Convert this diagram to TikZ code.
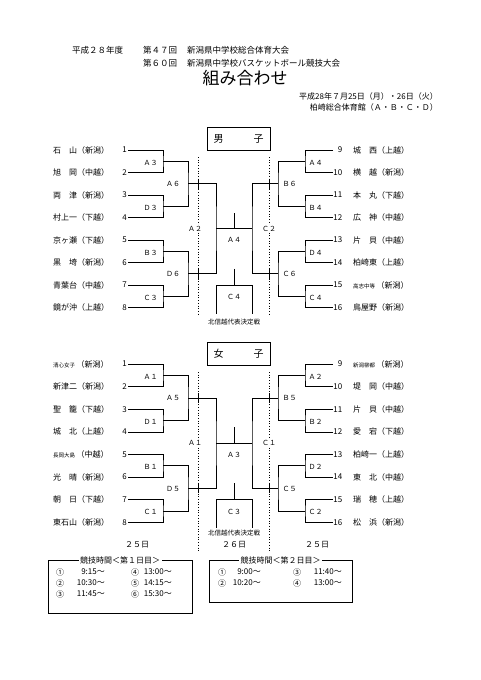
\documentclass[tikz,border=0pt]{standalone}
\usepackage{fontspec}
\setmainfont{Noto Sans CJK JP}
\usetikzlibrary{calc}
\newcommand\tsm[1]{{\fontsize{5.5}{6}\selectfont #1}}
\tikzset{
  br/.style={line width=0.6pt},
  dl/.style={dotted, line width=0.7pt},
  nm/.style={font=\fontsize{8}{9}\selectfont, inner sep=0pt},
  lab/.style={font=\fontsize{7}{8}\selectfont, inner sep=0.5pt},
  semi/.style={lab, fill=white, inner sep=1pt},
  tt/.style={font=\fontsize{8.5}{10}\selectfont, inner sep=0pt},
  sch/.style={font=\fontsize{8}{9}\selectfont, inner sep=0pt},
  small/.style={font=\fontsize{6.5}{7}\selectfont, inner sep=0pt},
  gbox/.style={draw, line width=0.7pt, minimum width=63, minimum height=23, inner sep=0pt, font=\fontsize{10}{11}\selectfont},
  sframe/.style={line width=0.7pt},
}
% #1 prefix, #2 first row y, #3 row spacing
\newcommand\mybracket[3]{%
  \foreach \i in {1,...,8}{%
    \pgfmathsetmacro\yy{#2+(\i-1)*#3}%
    \coordinate (#1l\i) at (128,\yy);
    \coordinate (#1r\i) at (333,\yy);
    \node[nm,anchor=east] (#1ln\i) at (127,\yy) {\i};
    \pgfmathtruncatemacro\jj{\i+8}%
    \node[nm,anchor=east] (#1rn\i) at (342.5,\yy) {\jj};
  }%
  \foreach \k in {1,...,4}{%
    \pgfmathsetmacro\yy{#2+(2*\k-1.5)*#3}%
    \coordinate (#1lj\k) at (163,\yy);
    \coordinate (#1rj\k) at (305,\yy);
  }%
  \foreach \k in {1,...,4}{%
    \pgfmathtruncatemacro\a{2*\k-1}%
    \pgfmathtruncatemacro\b{2*\k}%
    \draw[br] (#1l\a) -| (#1lj\k) |- (#1l\b);
    \draw[br] (#1r\a) -| (#1rj\k) |- (#1r\b);
  }%
  \foreach \k in {1,2}{%
    \pgfmathsetmacro\yy{#2+(4*\k-2.5)*#3}%
    \coordinate (#1lk\k) at (188,\yy);
    \coordinate (#1rk\k) at (278,\yy);
    \draw[br] (198,\yy-5) -- (198,\yy+5);
    \draw[br] (269,\yy-5) -- (269,\yy+5);
  }%
  \draw[br] (#1lj1) -| (#1lk1) |- (#1lj2);
  \draw[br] (#1lj3) -| (#1lk2) |- (#1lj4);
  \draw[br] (#1rj1) -| (#1rk1) |- (#1rj2);
  \draw[br] (#1rj3) -| (#1rk2) |- (#1rj4);
  \pgfmathsetmacro\yy{#2+3.5*#3}%
  \coordinate (#1ls) at (216,\yy);
  \coordinate (#1rs) at (252,\yy);
  \coordinate (#1f) at (234,\yy);
  \coordinate (#1ft) at (234,\yy-16);
  \coordinate (#1ta) at (234,\yy+40);
  \coordinate (#1tb) at (234,\yy+56.5);
  \coordinate (#1tl1) at (216,\yy+56.5);
  \coordinate (#1tr1) at (252,\yy+56.5);
  \coordinate (#1tl2) at (216,\yy+85);
  \coordinate (#1tr2) at (252,\yy+85);
  \draw[br] (#1lk1) -| (#1ls) |- (#1lk2);
  \draw[br] (#1rk1) -| (#1rs) |- (#1rk2);
  \draw[br] (#1ls) -- (#1rs);
  \draw[br] (#1f) -- (#1ft);
  \draw[br] (#1ta) -- (#1tb);
  \draw[br] (#1tl2) -- (#1tl1) -- (#1tr1) -- (#1tr2);
}
\newcommand\mylabels[9]{%
  \foreach \t [count=\k] in {#2} \node[lab] (#1la\k) at ($(#1lj\k)+(-12.5,1.5)$) {\t};
  \foreach \t [count=\k] in {#3} \node[lab] (#1ra\k) at ($(#1rj\k)+(10.5,1.5)$) {\t};
  \foreach \t [count=\k] in {#4} \node[lab] (#1lb\k) at ($(#1lk\k)+(-15,0.5)$) {\t};
  \foreach \t [count=\k] in {#5} \node[lab] (#1rb\k) at ($(#1rk\k)+(11.5,0.5)$) {\t};
  \node[semi] (#1lc) at ($(#1ls)+(-21,0)$) {#6};
  \node[semi] (#1rc) at ($(#1rs)+(17,0)$) {#7};
  \node[lab] (#1fl) at ($(#1f)+(0,11.5)$) {#8};
  \node[lab] (#1tl) at ($(#1f)+(0,68.5)$) {#9};
}
\begin{document}
\begin{tikzpicture}[x=1pt,y=-1pt]
\useasboundingbox (0,0) rectangle (481,680);
\fill[white] (0,0) rectangle (481,680);

% titles
\node[tt,anchor=west] (t1) at (72,50) {平成２８年度};
\node[tt,anchor=west] (t2) at (143,50) {第４７回};
\node[tt,anchor=west] (t3) at (187,50) {新潟県中学校総合体育大会};
\node[tt,anchor=west] (t4) at (143,63) {第６０回};
\node[tt,anchor=west] (t5) at (187,63) {新潟県中学校バスケットボール競技大会};
\node[inner sep=0pt,font=\fontsize{17}{18}\selectfont] (t6) at (245,78) {組み合わせ};
\node[nm,anchor=east] (d1) at (438,96) {平成28年７月25日（月）・26日（火）};
\node[nm,anchor=east] (d2) at (438,107.5) {柏崎総合体育館（Ａ・Ｂ・Ｃ・Ｄ）};

% gender boxes
\node[gbox] (boys) at (238.5,138.5) {男　　　子};
\node[gbox] (girls) at (238.5,353.5) {女　　　子};

% dotted lines
\coordinate (bd1) at (198,157); \coordinate (bd2) at (198,314);
\coordinate (bd3) at (269,157); \coordinate (bd4) at (269,314);
\coordinate (gd1) at (198,372); \coordinate (gd2) at (198,551);
\coordinate (gd3) at (269,372); \coordinate (gd4) at (269,551);
\draw[dl] (bd1) -- (bd2);
\draw[dl] (bd3) -- (bd4);
\draw[dl] (gd1) -- (gd2);
\draw[dl] (gd3) -- (gd4);

% brackets
\mybracket{b}{150}{22.5}
\mybracket{g}{364}{22.6}

\mylabels{b}{Ａ３,Ｄ３,Ｂ３,Ｃ３}{Ａ４,Ｂ４,Ｄ４,Ｃ４}{Ａ６,Ｄ６}{Ｂ６,Ｃ６}{Ａ２}{Ｃ２}{Ａ４}{Ｃ４}
\mylabels{g}{Ａ１,Ｄ１,Ｂ１,Ｃ１}{Ａ２,Ｂ２,Ｄ２,Ｃ２}{Ａ５,Ｄ５}{Ｂ５,Ｃ５}{Ａ１}{Ｃ１}{Ａ３}{Ｃ３}

% team names
\foreach \i/\t in {1/石　山（新潟）,2/旭　岡（中越）,3/両　津（新潟）,4/村上一（下越）,5/京ヶ瀬（下越）,6/黒　埼（新潟）,7/青葉台（中越）,8/鏡が沖（上越）}
  \node[nm,anchor=west] (btl\i) at ($(bl\i)+(-75,0)$) {\t};
\foreach \i/\t in {1/城　西（上越）,2/横　越（新潟）,3/本　丸（下越）,4/広　神（中越）,5/片　貝（中越）,6/柏崎東（上越）,7/\tsm{高志中等}\,（新潟）,8/鳥屋野（新潟）}
  \node[nm,anchor=west] (btr\i) at ($(br\i)+(20,0)$) {\t};
\foreach \i/\t in {1/\tsm{清心女子}\,（新潟）,2/新津二（新潟）,3/聖　籠（下越）,4/城　北（上越）,5/\tsm{長岡大島}\,（中越）,6/光　晴（新潟）,7/朝　日（下越）,8/東石山（新潟）}
  \node[nm,anchor=west] (gtl\i) at ($(gl\i)+(-75,0)$) {\t};
\foreach \i/\t in {1/\tsm{新潟柳都}\,（新潟）,2/堤　岡（中越）,3/片　貝（中越）,4/愛　宕（下越）,5/柏崎一（上越）,6/東　北（中越）,7/瑞　穂（上越）,8/松　浜（新潟）}
  \node[nm,anchor=west] (gtr\i) at ($(gr\i)+(20,0)$) {\t};

% representative match notes
\node[small] (bnote) at (234,322) {北信越代表決定戦};
\node[small] (gnote) at (234,533.5) {北信越代表決定戦};
\node[nm] (day26) at (234,545) {２６日};
\node[nm] (day25l) at (137,545) {２５日};
\node[nm] (day25r) at (317,545) {２５日};

% schedule box 1
\coordinate (sb1a) at (48,560); \coordinate (sb1b) at (192,613);
\draw[sframe] (sb1a) rectangle (sb1b);
\node[sch, fill=white, inner xsep=1.5pt] (st1) at (120,560) {競技時間＜第１日目＞};
\node[sch] (s11) at (60,572) {①};
\node[sch,anchor=east] (s11t) at (105,572) {9:15〜};
\node[sch] (s12) at (60,583) {②};
\node[sch,anchor=east] (s12t) at (105,583) {10:30〜};
\node[sch] (s13) at (60,594) {③};
\node[sch,anchor=east] (s13t) at (105,594) {11:45〜};
\node[sch] (s14) at (135,572) {④};
\node[sch,anchor=east] (s14t) at (172,572) {13:00〜};
\node[sch] (s15) at (135,583) {⑤};
\node[sch,anchor=east] (s15t) at (172,583) {14:15〜};
\node[sch] (s16) at (135,594) {⑥};
\node[sch,anchor=east] (s16t) at (172,594) {15:30〜};

% schedule box 2
\coordinate (sb2a) at (209,560); \coordinate (sb2b) at (352,602);
\draw[sframe] (sb2a) rectangle (sb2b);
\node[sch, fill=white, inner xsep=1.5pt] (st2) at (280.5,560) {競技時間＜第２日目＞};
\node[sch] (s21) at (222,572) {①};
\node[sch,anchor=east] (s21t) at (261,572) {9:00〜};
\node[sch] (s22) at (222,583) {②};
\node[sch,anchor=east] (s22t) at (261,583) {10:20〜};
\node[sch] (s23) at (297,572) {③};
\node[sch,anchor=east] (s23t) at (342,572) {11:40〜};
\node[sch] (s24) at (297,583) {④};
\node[sch,anchor=east] (s24t) at (342,583) {13:00〜};
\end{tikzpicture}
\end{document}
